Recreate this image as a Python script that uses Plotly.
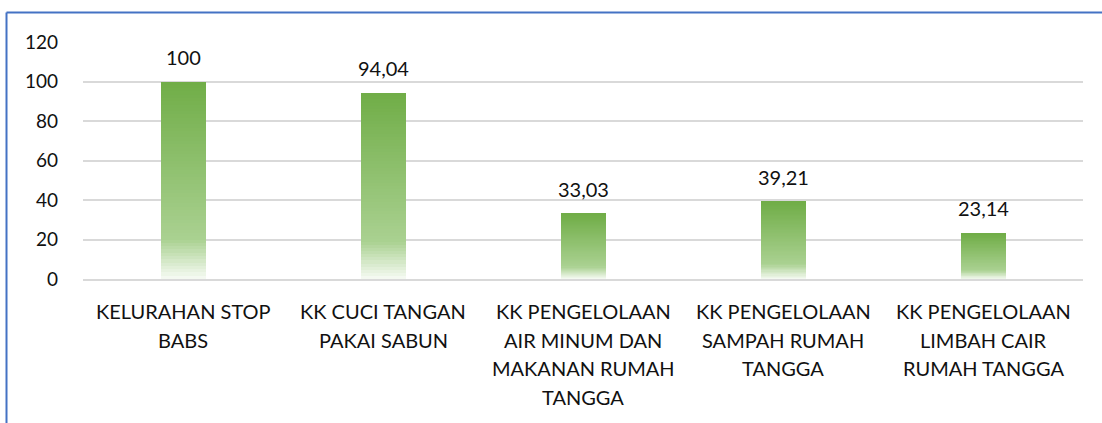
import plotly.graph_objects as go

# Indicator categories and their percentages
categories = [
    "KELURAHAN STOP<br>BABS",
    "KK CUCI TANGAN<br>PAKAI SABUN",
    "KK PENGELOLAAN<br>AIR MINUM DAN<br>MAKANAN RUMAH<br>TANGGA",
    "KK PENGELOLAAN<br>SAMPAH RUMAH<br>TANGGA",
    "KK PENGELOLAAN<br>LIMBAH CAIR<br>RUMAH TANGGA",
]
values = [100, 94.04, 33.03, 39.21, 23.14]
y_ticks = [0, 20, 40, 60, 80, 100, 120]

FONT = "Lato, 'Open Sans', sans-serif"
TEXT = "#111111"

# Vertical gradient stops (0 = bar base, 1 = bar top)
stops = [
    (0.00, (247, 251, 245)),
    (0.20, (170, 209, 145)),
    (1.00, (112, 173, 71)),
]


def grad_color(t):
    for (t0, c0), (t1, c1) in zip(stops[:-1], stops[1:]):
        if t <= t1:
            f = (t - t0) / (t1 - t0)
            c = [round(a + (b - a) * f) for a, b in zip(c0, c1)]
            return f"rgb({c[0]},{c[1]},{c[2]})"
    c = stops[-1][1]
    return f"rgb({c[0]},{c[1]},{c[2]})"


fig = go.Figure()

# Each bar is built from thin stacked slices so it can fade toward its base
N = 60
x_idx = list(range(len(categories)))
for k in range(N):
    t = (k + 0.5) / N
    fig.add_trace(go.Bar(
        x=x_idx,
        y=[v / N for v in values],
        base=[v * k / N for v in values],
        width=0.225,
        marker=dict(color=grad_color(t), line=dict(width=0)),
        hoverinfo="skip",
        showlegend=False,
    ))

# Value labels above each bar
for i, v in enumerate(values):
    label = f"{v:.2f}".replace(".", ",") if v != int(v) else str(int(v))
    fig.add_annotation(
        x=i, y=v, text=label, showarrow=False,
        yanchor="bottom", yshift=11,
        font=dict(family=FONT, size=20, color=TEXT),
    )

# Category labels, one annotation per line for a looser line spacing
LINE_GAP = 28.7
for i, cat in enumerate(categories):
    for j, line in enumerate(cat.split("<br>")):
        fig.add_annotation(
            x=i, y=0, text=line, showarrow=False,
            yanchor="middle", yshift=-(32 + LINE_GAP * j),
            font=dict(family=FONT, size=20, color=TEXT),
        )

fig.update_layout(
    width=1102, height=423,
    margin=dict(l=83, r=19, t=42, b=144),
    paper_bgcolor="white", plot_bgcolor="white",
    barmode="overlay",
    bargap=0,
    font=dict(family=FONT, size=20, color=TEXT),
    xaxis=dict(
        tickmode="array", tickvals=x_idx,
        range=[-0.5, len(categories) - 0.5],
        showticklabels=False,
        showgrid=False, zeroline=False,
        showline=True, linecolor="#d9d9d9", linewidth=1.5,
        ticks="",
    ),
    yaxis=dict(
        range=[0, 120], tickmode="array", tickvals=y_ticks,
        showgrid=True, gridcolor="#d9d9d9", gridwidth=1.5,
        zeroline=False, showline=False, ticks="",
        ticklabelstandoff=24,
        tickfont=dict(family=FONT, size=19, color=TEXT),
    ),
    shapes=[
        # chart frame: top and left edges
        dict(type="line", xref="paper", yref="paper",
             x0=(6.5 - 83) / 1000, x1=1.05, y0=1 + (42 - 12.5) / 237, y1=1 + (42 - 12.5) / 237,
             line=dict(color="#4472C4", width=2)),
        dict(type="line", xref="paper", yref="paper",
             x0=(6.5 - 83) / 1000, x1=(6.5 - 83) / 1000, y0=-0.7, y1=1 + (42 - 12.5) / 237,
             line=dict(color="#4472C4", width=2)),
    ],
)

fig.write_html("out.html")
